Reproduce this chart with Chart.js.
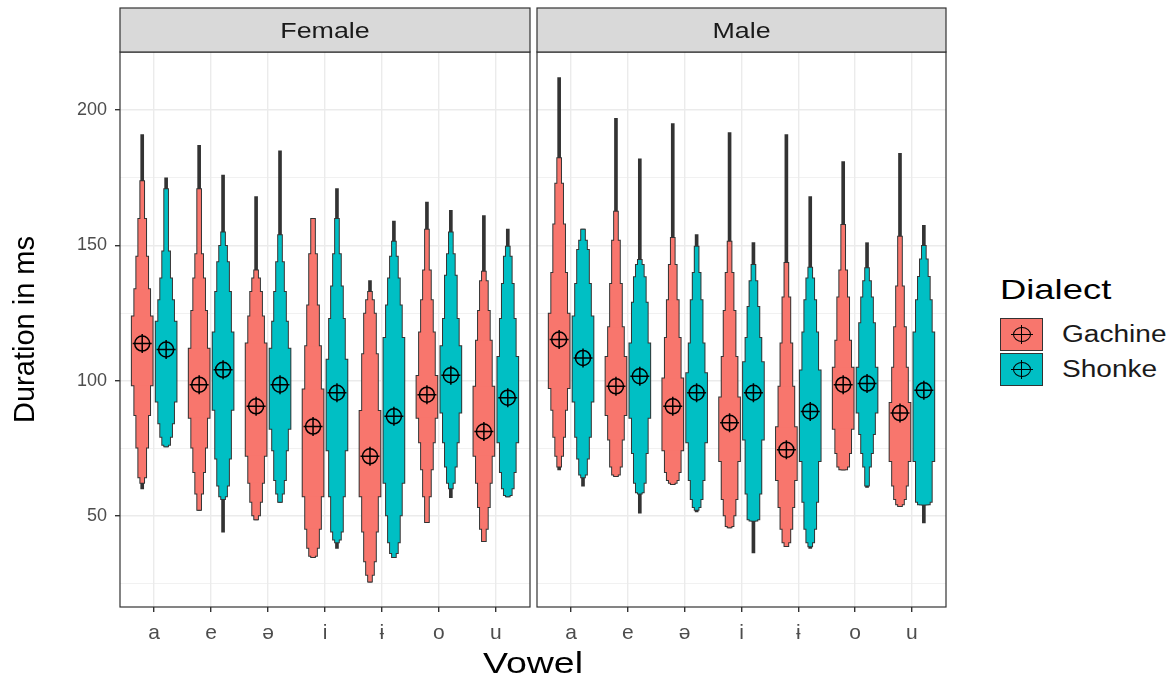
<!DOCTYPE html>
<html>
<head>
<meta charset="utf-8">
<script src="https://cdn.jsdelivr.net/npm/chart.js@4.4.0/dist/chart.umd.min.js"></script>
<style>
  body { margin: 0; background: #fff; font-family: "Liberation Sans", Arial, sans-serif; }
  #wrap { position: relative; width: 1174px; height: 681px; overflow: hidden; }
  canvas { position: absolute; top: 0; }
  #xtitle { position: absolute; left: 383px; width: 300px; top: 646px; text-align: center; font-size: 30px; line-height: 34px; color: #000; }
  #xtitle span { display: inline-block; transform: scaleX(1.25); }
  #legend { position: absolute; left: 1000px; top: 273px; }
  #legend .ltitle { font-size: 28px; line-height: 34px; color: #000; height: 44px; transform: scaleX(1.3); transform-origin: left center; }
  #legend .key { display: flex; align-items: center; height: 35px; }
  #legend .sw { position: relative; width: 43px; height: 33px; border: 1px solid #333; box-sizing: border-box; flex: none; }
  #legend .mk { position: absolute; left: 12px; top: 8px; width: 18px; height: 15px; border: 1.5px solid #000; border-radius: 50%; box-sizing: border-box; }
  #legend .mk::before { content: ""; position: absolute; left: 6.5px; top: -3px; width: 1.5px; height: 19px; background: #000; }
  #legend .mk::after { content: ""; position: absolute; left: -3px; top: 5.5px; width: 22px; height: 1.5px; background: #000; }
  #legend .lab { margin-left: 19px; font-size: 23px; color: #1A1A1A; transform: scaleX(1.22); transform-origin: left center; white-space: nowrap; }
</style>
</head>
<body>
<div id="wrap">
  <canvas id="female" width="531" height="681" style="left:0"></canvas>
  <canvas id="male" width="420" height="681" style="left:531px"></canvas>
  <div id="xtitle"><span>Vowel</span></div>
  <div id="legend"><div class="ltitle">Dialect</div></div>
</div>
<script>
// categories
const vowels = ['a', 'e', 'ə', 'i', 'ɨ', 'o', 'u'];
const dialects = ['Gachine', 'Shonke'];
const yTickValues = [25, 50, 75, 100, 125, 150, 175, 200];
const yTickLabels = ['', '50', '', '100', '', '150', '', '200'];

// letter-value boxes per vowel, widest box first: [low, high] in ms
const femaleGachineBoxes = [
  [[98, 124], [87, 134], [75, 146], [64, 160], [62, 174]],
  [[86, 112], [75, 126], [66, 138], [58, 147], [52, 171]],
  [[72, 114], [62, 124], [55, 133], [50, 138], [48.5, 141]],
  [[57, 97], [45, 113], [38, 128], [35, 147], [34.5, 160]],
  [[57, 89], [44, 110], [33, 125], [28, 130], [25.5, 133]],
  [[86, 102], [77, 118], [67, 130], [57, 141], [47.5, 156]],
  [[72, 98], [62, 115], [53, 126], [45, 137], [40.5, 140.5]]
];
const femaleGachineRange = [[60, 191], [52, 187], [48.5, 168], [34.5, 160], [25.5, 137], [47.5, 166], [40.5, 161]];
const femaleGachineMean = [113.7, 98.5, 90.5, 83, 72, 94.8, 81.2];

const femaleShonkeBoxes = [
  [[92, 122], [84, 130], [79, 138], [76, 148], [75.5, 171]],
  [[89, 118], [71, 133], [61, 144], [57, 150], [56, 155]],
  [[82, 112], [74, 122], [63, 133], [58, 144], [55, 154]],
  [[74, 108], [57, 123], [44, 135], [41, 147], [40, 160]],
  [[62, 116], [50, 128], [40, 138], [36, 146], [34.5, 151.6]],
  [[88, 113], [77, 123], [68, 139], [62, 147], [60, 155]],
  [[77, 109], [66, 123], [60, 136], [57.5, 146], [57, 149.7]]
];
const femaleShonkeRange = [[75.5, 175], [44, 176], [55, 185], [38, 171], [34.5, 159], [56.7, 163], [57, 156]];
const femaleShonkeMean = [111.5, 104, 98.5, 95.5, 86.8, 102, 93.7];

const maleGachineBoxes = [
  [[97, 125], [89, 140], [79, 158], [72, 173], [68, 182.5]],
  [[87, 109], [78, 120], [68, 136], [65, 152], [64.5, 162.7]],
  [[74, 101], [66, 116], [63, 130], [62, 143], [61.5, 153]],
  [[70, 94], [56, 109], [50, 126], [46, 140], [45.5, 151.6]],
  [[63, 83], [53, 98], [45, 114], [40, 131], [38.6, 143.7]],
  [[82, 105], [73, 115], [68, 131], [67, 141], [67, 157.8]],
  [[70, 92], [61, 105], [56, 120], [54, 135], [53.4, 153.4]]
];
const maleGachineRange = [[67, 212], [64.5, 197], [61.5, 195], [45.5, 191.7], [38.6, 191], [67, 181], [53.4, 184]];
const maleGachineMean = [115.2, 97.9, 90.5, 84.4, 74.4, 98.5, 88];

const maleShonkeBoxes = [
  [[92, 124], [79, 136], [71, 148.5], [65, 152], [64, 156]],
  [[86, 114], [73, 129], [62, 138.5], [58.5, 143], [58, 144.8]],
  [[77, 103], [63, 114], [56, 130], [53, 140], [52, 149.7]],
  [[78, 107], [58, 116], [48.5, 127.5], [48, 137], [48, 143]],
  [[70, 104], [55, 118], [45, 130], [40, 138], [38.5, 142]],
  [[88, 105], [80, 121.5], [73, 131], [68, 137], [61, 141.8]],
  [[70, 118], [55, 130], [54, 138.6], [54, 145], [54, 150]]
];
const maleShonkeRange = [[61, 156], [51, 182], [51.5, 154], [36.3, 151], [38, 168], [60.5, 151], [47.4, 157.4]];
const maleShonkeMean = [108.4, 101.6, 95.5, 95.5, 88.6, 98.9, 96.4];

// styling
const dialectColors = ['#F8766D', '#00BFC4'];
const dodge = [-0.21, 0.21];
const levelWidths = [22, 17, 13, 9, 5];
const outline = '#333333';
const fontFamily = '"Liberation Sans", Arial, sans-serif';

// frame + strip label around each panel
const panelFrame = {
  id: 'panelFrame',
  afterDraw(chart, args, opts) {
    const { ctx, chartArea: a } = chart;
    ctx.save();
    ctx.strokeStyle = outline;
    ctx.lineWidth = 1.2;
    ctx.strokeRect(a.left, a.top, a.right - a.left, a.bottom - a.top);
    ctx.fillStyle = '#D9D9D9';
    ctx.fillRect(a.left, 8, a.right - a.left, a.top - 8);
    ctx.strokeRect(a.left, 8, a.right - a.left, a.top - 8);
    ctx.fillStyle = '#1A1A1A';
    ctx.font = '22px ' + fontFamily;
    ctx.textAlign = 'center';
    ctx.textBaseline = 'middle';
    ctx.translate((a.left + a.right) / 2, (8 + a.top) / 2 + 2);
    ctx.scale(1.22, 1);
    ctx.fillText(opts.label, 0, 0);
    ctx.restore();
  }
};

function lvDatasets(boxes, range, means, d) {
  const off = dodge[d];
  const out = [];
  // thin dark line over the whole range, behind the boxes
  out.push({
    type: 'bar', grouped: false, order: 3, barThickness: 3,
    backgroundColor: outline,
    data: range.map((r, i) => ({ x: i + 1 + off, y: r }))
  });
  levelWidths.forEach((w, k) => {
    const data = boxes.map((b, i) => ({ x: i + 1 + off, y: b[k] }));
    // dark silhouette
    out.push({ type: 'bar', grouped: false, order: 3, barThickness: w, backgroundColor: outline, data });
    // coloured fill inset by 1px, leaves the outline showing
    out.push({
      type: 'bar', grouped: false, order: 2, barThickness: w,
      backgroundColor: dialectColors[d], borderColor: 'rgba(0,0,0,0)',
      borderWidth: 1, borderSkipped: false, data
    });
  });
  const pts = means.map((m, i) => ({ x: i + 1 + off, y: m }));
  out.push({
    type: 'scatter', order: 1, data: pts, pointStyle: 'circle', pointRadius: 7.5,
    pointBorderWidth: 1.5, pointBorderColor: '#000', pointBackgroundColor: 'rgba(0,0,0,0)'
  });
  out.push({
    type: 'scatter', order: 0, data: pts, pointStyle: 'cross', pointRadius: 9.5,
    pointBorderWidth: 1.5, pointBorderColor: '#000'
  });
  return out;
}

function makePanel(id, label, g, s, showY) {
  const datasets = [
    ...lvDatasets(g.boxes, g.range, g.mean, 0),
    ...lvDatasets(s.boxes, s.range, s.mean, 1)
  ];
  new Chart(document.getElementById(id), {
    type: 'bar',
    data: { datasets },
    plugins: [panelFrame],
    options: {
      responsive: false,
      animation: false,
      events: [],
      layout: { autoPadding: false, padding: { top: 52, bottom: 34, left: showY ? 0 : 6, right: showY ? 1 : 5 } },
      plugins: { legend: { display: false }, tooltip: { enabled: false }, panelFrame: { label } },
      scales: {
        x: {
          type: 'linear', min: 0.4, max: 7.6, offset: false,
          afterBuildTicks: sc => { sc.ticks = vowels.map((v, i) => ({ value: i + 1 })); },
          afterFit: sc => { sc.height = 40; },
          ticks: {
            callback: (v, i) => vowels[i], color: '#4D4D4D',
            font: { size: 21, family: fontFamily },
            padding: 9, maxRotation: 0, autoSkip: false
          },
          grid: { color: '#EBEBEB', lineWidth: 1.4, tickColor: outline, tickLength: 5, offset: false },
          border: { display: false }
        },
        y: {
          min: 16.3, max: 221.5,
          afterBuildTicks: sc => { sc.ticks = yTickValues.map(v => ({ value: v })); },
          afterFit: sc => { sc.width = showY ? 120 : 0; },
          ticks: {
            display: showY,
            callback: (v, i) => yTickLabels[i], color: '#4D4D4D',
            font: { size: 18, family: fontFamily },
            padding: 8
          },
          grid: {
            color: '#EBEBEB',
            lineWidth: c => (c.tick && c.tick.value % 50 === 0 ? 1.4 : 0.7),
            drawTicks: showY, tickLength: 5,
            tickColor: c => (c.tick && c.tick.value % 50 === 0 ? outline : 'rgba(0,0,0,0)')
          },
          title: {
            display: showY, text: 'Duration in ms', color: '#000',
            font: { size: 29, family: fontFamily },
            padding: { top: 9, bottom: 0 }
          },
          border: { display: false }
        }
      }
    }
  });
}

makePanel('female', 'Female',
  { boxes: femaleGachineBoxes, range: femaleGachineRange, mean: femaleGachineMean },
  { boxes: femaleShonkeBoxes, range: femaleShonkeRange, mean: femaleShonkeMean }, true);
makePanel('male', 'Male',
  { boxes: maleGachineBoxes, range: maleGachineRange, mean: maleGachineMean },
  { boxes: maleShonkeBoxes, range: maleShonkeRange, mean: maleShonkeMean }, false);

// legend
const legend = document.getElementById('legend');
dialects.forEach((name, d) => {
  const row = document.createElement('div');
  row.className = 'key';
  row.innerHTML = '<span class="sw" style="background:' + dialectColors[d] + '"><i class="mk"></i></span>' +
    '<span class="lab">' + name + '</span>';
  legend.appendChild(row);
});
</script>
</body>
</html>
